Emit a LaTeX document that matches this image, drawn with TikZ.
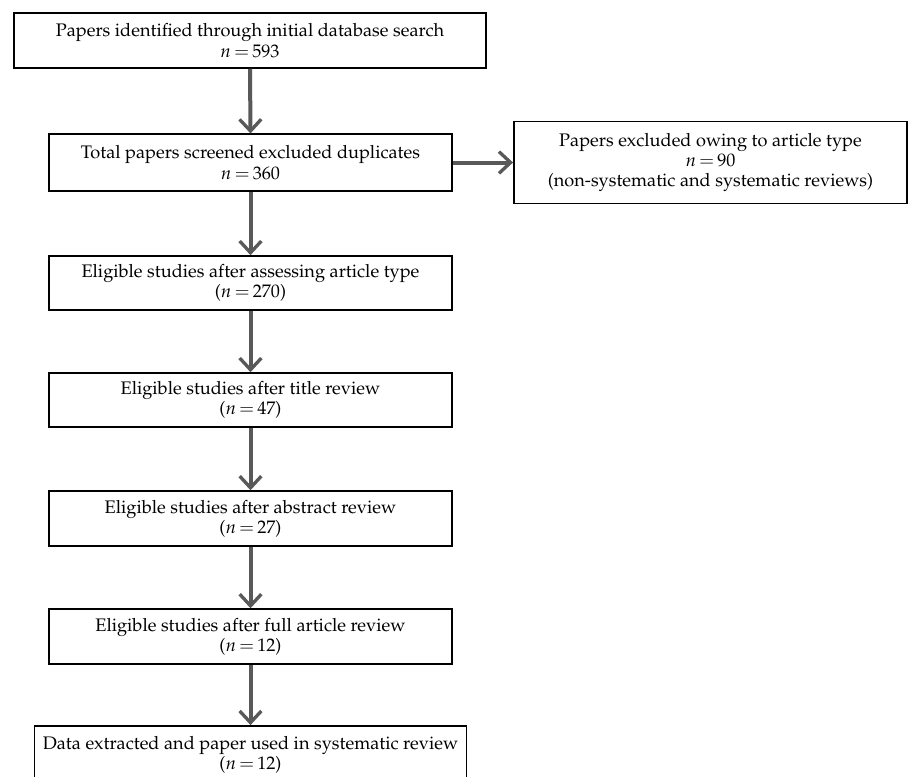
\documentclass[tikz,border=0pt]{standalone}
\usepackage[T1]{fontenc}
\usepackage{mathpazo}
\usepackage{tikz}
\usetikzlibrary{arrows.meta}
\begin{document}
\begin{tikzpicture}[x=0.6pt,y=-0.6pt]
    \tikzset{align=center,
        font=\fontsize{10.9}{12.2}\selectfont}
    \tikzset{stage/.style = {shape=rectangle,draw,line width=0.9pt,inner sep=0pt,minimum height=33pt}}
    \tikzset{flow/.style = {draw=black!65,line width=2.4pt,-{Straight Barb[length=7pt,width=13pt,line width=2pt]}}}
    \useasboundingbox (0,0) rectangle (908,776);
    % stages
    \node[stage,minimum width=283pt] (s1) at (250,40.5) {Papers identified through initial database search\\ $n\,{=}\,593$};
    \node[stage,minimum width=242pt,minimum height=34pt] (s2) at (250.5,162.5) {Total papers screened excluded duplicates\\ $n\,{=}\,360$};
    \node[stage,minimum width=236pt,minimum height=49pt] (ex) at (710.5,162.5) {Papers excluded owing to article type\\ $n\,{=}\,90$\\ (non-systematic and systematic reviews)};
    \node[stage,minimum width=242pt,minimum height=32.5pt] (s3) at (250.5,283) {Eligible studies after assessing article type\\ ($n\,{=}\,270$)};
    \node[stage,minimum width=242pt,minimum height=32.5pt] (s4) at (250.5,400) {Eligible studies after title review\\ ($n\,{=}\,47$)};
    \node[stage,minimum width=242pt] (s5) at (250.5,518.5) {Eligible studies after abstract review\\ ($n\,{=}\,27$)};
    \node[stage,minimum width=242pt] (s6) at (250.5,636.5) {Eligible studies after full article review\\ ($n\,{=}\,12$)};
    \node[stage,minimum width=259pt,minimum height=35pt] (s7) at (250.5,755) {Data extracted and paper used in systematic review\\ ($n\,{=}\,12$)};

    %arrows
    \draw[flow] (s1.south) -- (s2.north);
    \draw[flow] (s2.east) -- (ex.west);
    \draw[flow] (s2.south) -- (s3.north);
    \draw[flow] (s3.south) -- (s4.north);
    \draw[flow] (s4.south) -- (s5.north);
    \draw[flow] (s5.south) -- (s6.north);
    \draw[flow] (s6.south) -- (s7.north);
\end{tikzpicture}
\end{document}
